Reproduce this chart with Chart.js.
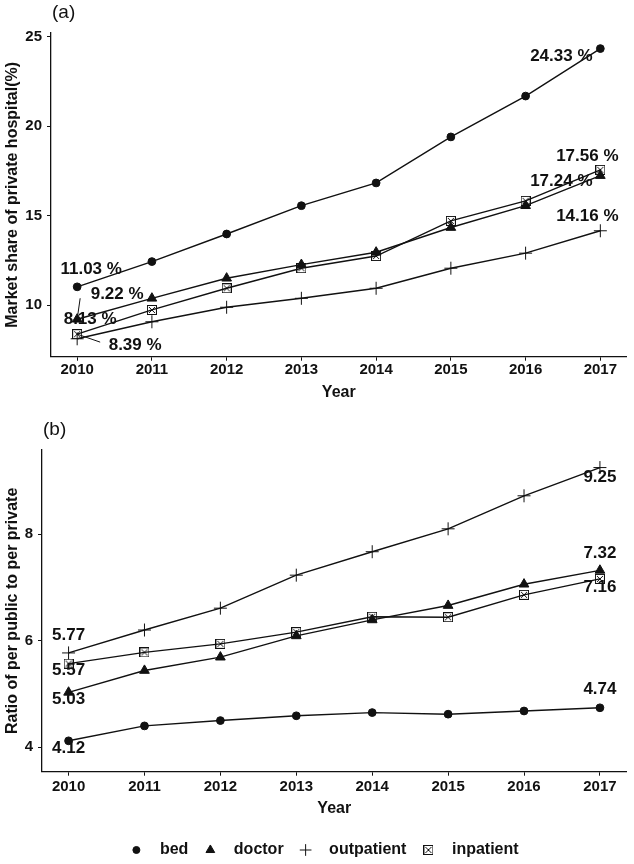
<!DOCTYPE html>
<html>
<head>
<meta charset="utf-8">
<script src="https://cdn.jsdelivr.net/npm/chart.js@4.4.0/dist/chart.umd.min.js"></script>
<style>
    body { margin: 0; background: #fff; }
    #wrap { position: relative; width: 634px; height: 864px; background: #fff; }
    canvas { position: absolute; left: 0; }
    #share-chart { top: 0; }
    #ratio-chart { top: 420px; }
</style>
</head>
<body>
<div id="wrap">
    <canvas id="share-chart" width="634" height="410"></canvas>
    <canvas id="ratio-chart" width="634" height="444"></canvas>
</div>
<script>
var years = [2010, 2011, 2012, 2013, 2014, 2015, 2016, 2017];
var seriesNames = ["bed", "doctor", "outpatient", "inpatient"];

// (a) market share of private hospital, %
var shareBed = [11.03, 12.44, 13.98, 15.56, 16.83, 19.40, 21.68, 24.33];
var shareDoctor = [9.22, 10.39, 11.51, 12.27, 12.96, 14.34, 15.56, 17.24];
var shareOutpatient = [8.13, 9.08, 9.89, 10.39, 10.95, 12.07, 12.91, 14.16];
var shareInpatient = [8.39, 9.74, 10.95, 12.07, 12.75, 14.71, 15.83, 17.56];
var shareTicks = [10, 15, 20, 25];

// (b) ratio of per public to per private
var ratioBed = [4.12, 4.40, 4.50, 4.59, 4.65, 4.62, 4.68, 4.74];
var ratioDoctor = [5.03, 5.44, 5.69, 6.09, 6.39, 6.66, 7.06, 7.32];
var ratioOutpatient = [5.77, 6.20, 6.61, 7.23, 7.67, 8.10, 8.72, 9.25];
var ratioInpatient = [5.57, 5.78, 5.94, 6.16, 6.45, 6.44, 6.86, 7.16];
var ratioTicks = [4, 6, 8];

var ink = "#111";
var family = "'Liberation Sans', Arial, sans-serif";

window.addEventListener("load", init);

function boxCross(size) {
    var c = document.createElement("canvas");
    c.width = size;
    c.height = size;
    var g = c.getContext("2d");
    g.strokeStyle = ink;
    g.lineWidth = 1;
    g.strokeRect(0.5, 0.5, size - 1, size - 1);
    g.beginPath();
    g.moveTo(2, 2);
    g.lineTo(size - 2, size - 2);
    g.moveTo(size - 2, 2);
    g.lineTo(2, size - 2);
    g.stroke();
    return c;
}

var markers;

// text at first / last point of every line
var endLabels = {
    id: "endLabels",
    afterDatasetsDraw: function (chart, args, o) {
        var ctx = chart.ctx;
        ctx.save();
        ctx.font = "bold 17px " + family;
        ctx.fillStyle = ink;
        ctx.strokeStyle = ink;
        ctx.lineWidth = 1;
        ctx.textAlign = "center";
        ctx.textBaseline = "middle";
        chart.data.datasets.forEach(function (ds, i) {
            var pts = chart.getDatasetMeta(i).data;
            var ends = [["first", 0], ["last", pts.length - 1]];
            ends.forEach(function (e) {
                var off = o.offsets[i][e[0]];
                var p = pts[e[1]];
                if (off.length > 2) {
                    ctx.beginPath();
                    ctx.moveTo(p.x, p.y);
                    ctx.lineTo(p.x + off[2], p.y + off[3]);
                    ctx.stroke();
                }
                ctx.fillText(ds.data[e[1]].y.toFixed(2) + o.suffix, p.x + off[0], p.y + off[1]);
            });
        });
        ctx.restore();
    }
};

var panelTag = {
    id: "panelTag",
    afterDraw: function (chart, args, o) {
        var ctx = chart.ctx;
        ctx.save();
        ctx.font = "19px " + family;
        ctx.fillStyle = ink;
        ctx.textAlign = "left";
        ctx.textBaseline = "middle";
        ctx.fillText(o.text, chart.chartArea.left + 1, o.y);
        ctx.restore();
    }
};

var bottomLegend = {
    id: "bottomLegend",
    afterDraw: function (chart, args, o) {
        if (!o.display) return;
        var ctx = chart.ctx;
        ctx.save();
        ctx.font = "bold 16px " + family;
        ctx.fillStyle = ink;
        ctx.strokeStyle = ink;
        ctx.textAlign = "left";
        ctx.textBaseline = "middle";
        var sets = chart.data.datasets;
        var widths = sets.map(function (ds) { return ctx.measureText(ds.label).width; });
        var total = 0;
        widths.forEach(function (w) { total += o.markerGap + w + o.itemGap; });
        total -= o.itemGap;
        var x = o.centerX - total / 2;
        sets.forEach(function (ds, i) {
            Chart.helpers.drawPoint(ctx, {
                pointStyle: ds.pointStyle,
                radius: ds.pointRadius * 0.9,
                borderWidth: ds.pointBorderWidth,
                rotation: 0
            }, x, o.y);
            ctx.fillText(ds.label, x + o.markerGap, o.y);
            x += o.markerGap + widths[i] + o.itemGap;
        });
        ctx.restore();
    }
};

function makeSets(list) {
    return list.map(function (values, i) {
        return {
            label: seriesNames[i],
            data: years.map(function (yr, k) { return { x: yr, y: values[k] }; }),
            borderColor: ink,
            backgroundColor: ink,
            borderWidth: 1.4,
            pointStyle: markers[i].style,
            pointRadius: markers[i].radius,
            pointBorderWidth: markers[i].border,
            pointBackgroundColor: ink,
            pointBorderColor: ink,
            tension: 0,
            fill: false
        };
    });
}

function makeChart(id, list, o) {
    var config = {
        type: "line",
        data: { datasets: makeSets(list) },
        plugins: [endLabels, panelTag, bottomLegend],
        options: {
            responsive: false,
            animation: false,
            layout: { padding: { top: o.top, right: 4, bottom: o.bottom, left: 0 } },
            plugins: {
                legend: { display: false },
                tooltip: { enabled: false },
                endLabels: { offsets: o.offsets, suffix: o.suffix },
                panelTag: { text: o.tag, y: o.tagY },
                bottomLegend: { display: o.legend, y: 430, centerX: 327.5, markerGap: 23.5, itemGap: 22 }
            },
            scales: {
                x: {
                    type: "linear",
                    min: 2009.65,
                    max: 2017.35,
                    afterBuildTicks: function (s) { s.ticks = years.map(function (v) { return { value: v }; }); },
                    afterFit: function (s) { s.height = o.xHeight; },
                    grid: { display: true, drawOnChartArea: false, drawTicks: true, tickLength: 4, color: ink, tickColor: ink },
                    border: { display: true, color: ink, width: 1.3 },
                    ticks: {
                        padding: o.xPad,
                        color: ink,
                        autoSkip: false,
                        maxRotation: 0,
                        font: { family: family, size: 15, weight: "bold" },
                        callback: function (v) { return String(v); }
                    },
                    title: {
                        display: true,
                        text: "Year",
                        color: ink,
                        font: { family: family, size: 16, weight: "bold" },
                        padding: { top: 0, bottom: o.titlePad }
                    }
                },
                y: {
                    min: o.yMin,
                    max: o.yMax,
                    afterBuildTicks: function (s) { s.ticks = o.yTicks.map(function (v) { return { value: v }; }); },
                    afterFit: function (s) { s.width = o.yWidth; },
                    grid: { display: true, drawOnChartArea: false, drawTicks: true, tickLength: 4, color: ink, tickColor: ink },
                    border: { display: true, color: ink, width: 1.3 },
                    ticks: {
                        padding: 5,
                        color: ink,
                        font: { family: family, size: 15, weight: "bold" },
                        callback: function (v) { return String(v); }
                    },
                    title: {
                        display: true,
                        text: o.yTitle,
                        color: ink,
                        font: { family: family, size: 16, weight: "bold" },
                        padding: { top: 3, bottom: 0 }
                    }
                }
            }
        }
    };
    return new Chart(document.getElementById(id), config);
}

function init() {
    markers = [
        { style: "circle", radius: 3.9, border: 1 },
        { style: "triangle", radius: 5.6, border: 1 },
        { style: "cross", radius: 6.5, border: 1 },
        { style: boxCross(10), radius: 5, border: 1 }
    ];

    makeChart("share-chart", [shareBed, shareDoctor, shareOutpatient, shareInpatient], {
        top: 33, bottom: 0, xHeight: 53.3, xPad: 0, titlePad: 7.4,
        yMin: 7.13, yMax: 25.2, yTicks: shareTicks, yWidth: 51,
        yTitle: "Market share of private hospital(%)",
        tag: "(a)", tagY: 13, legend: false, suffix: " %",
        offsets: [
            { first: [14, -18], last: [-39, 8] },
            { first: [40, -25, 3, -21], last: [-39, 6] },
            { first: [13, -19], last: [-13, -14] },
            { first: [58, 11, 23, 8], last: [-13, -14] }
        ]
    });

    makeChart("ratio-chart", [ratioBed, ratioDoctor, ratioOutpatient, ratioInpatient], {
        top: 30, bottom: 44, xHeight: 48.3, xPad: 2.5, titlePad: 2.1,
        yMin: 3.54, yMax: 9.58, yTicks: ratioTicks, yWidth: 42,
        yTitle: "Ratio of per public to per private",
        tag: "(b)", tagY: 10, legend: true, suffix: "",
        offsets: [
            { first: [0, 7.6], last: [0, -18] },
            { first: [0, 7], last: [0, -17] },
            { first: [0, -18], last: [0, 9.5] },
            { first: [0, 7], last: [0, 8] }
        ]
    });
}
</script>
</body>
</html>
